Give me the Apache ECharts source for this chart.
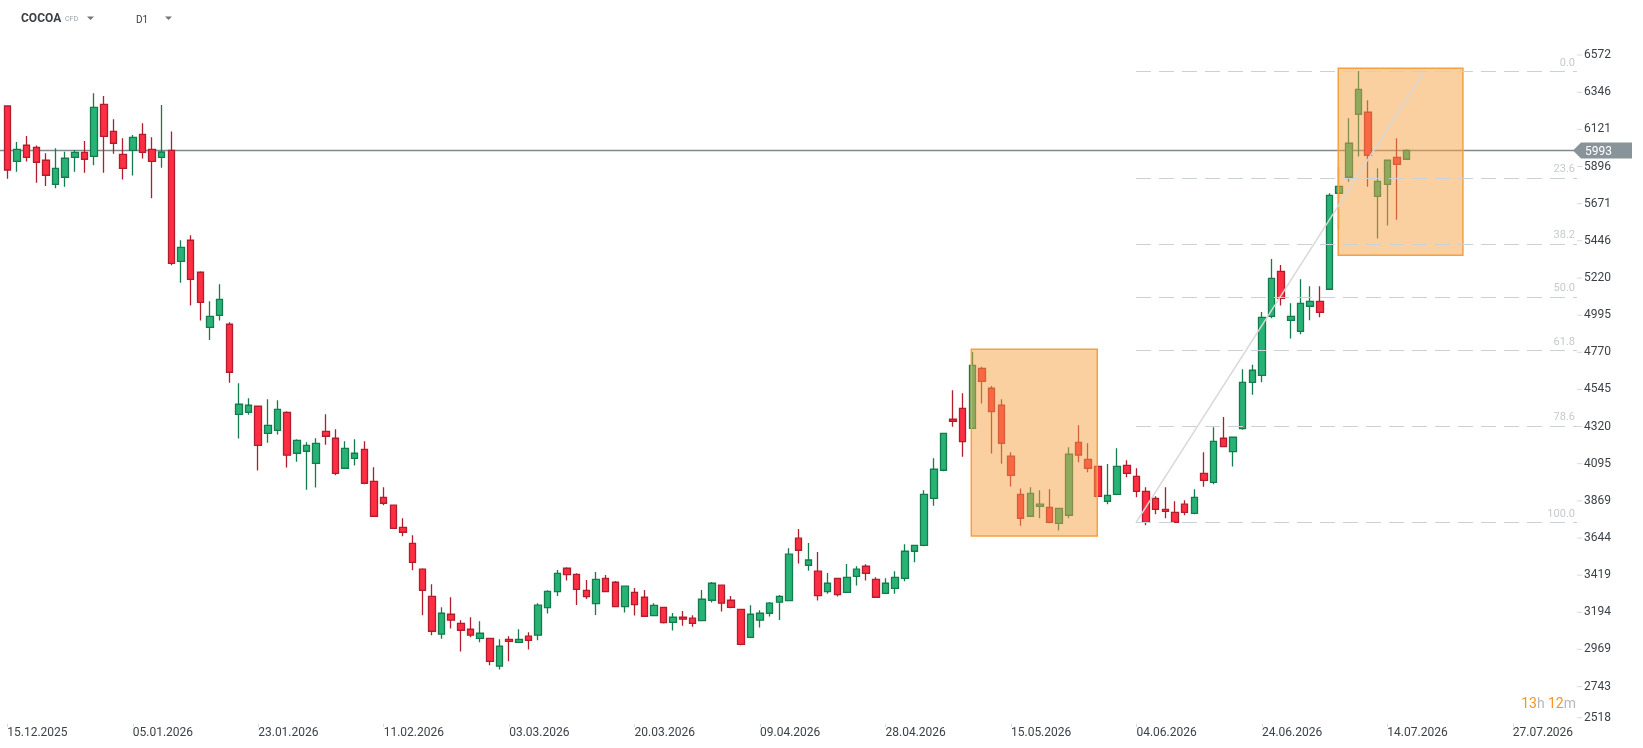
<!DOCTYPE html>
<html><head><meta charset="utf-8">
<script src="https://cdn.jsdelivr.net/npm/echarts@6/dist/echarts.min.js"></script>
<style>html,body{margin:0;padding:0;background:#fff;}#chart{width:1643px;height:748px;}</style>
</head><body><div id="chart"></div>
<script>
// ---- data ----
const openP = [6263,5927,6025,6012,5934,5788,5831,5952,5982,5958,6273,6109,5970,5994,6091,6000,5952,5994,5321,5449,5255,4921,4994,
4940,4394,4406,4443,4279,4297,4406,4158,4170,4097,4291,4249,4067,4127,4182,3988,3891,3843,3709,3612,3455,3291,3061,3182,3127,3091,
3036,3036,2867,3030,3012,3049,3055,3222,3319,3461,3424,3327,3247,3400,3376,3228,3315,3285,3174,3224,3133,3164,3158,3144,3267,3358,3267,
3212,3042,3146,3188,3255,3265,3643,3479,3443,3319,3400,3315,3412,3473,3394,3309,3339,3400,3564,3600,3885,4055,4364,4430,
4309,4673,4552,4449,4140,3909,3776,3836,3830,3733,3782,4224,4121,4079,3867,3909,4085,4018,3927,3885,3818,3800,3849,3794,4036,3982,
4249,4168,4307,4588,4630,4988,5261,4964,4897,5049,5079,5152,5734,5831,6212,6225,5715,5788,5952,5940];
const closeP = [5875,6000,5952,5922,5843,5885,5946,5982,5940,6255,6079,6037,5885,6073,5982,5927,5984,5309,5406,5212,5073,4988,5091,
4649,4455,4449,4206,4327,4424,4146,4236,4206,4218,4261,4036,4188,4158,3976,3776,3855,3703,3679,3497,3327,3079,3188,3146,3085,3055,
3067,2897,2988,3018,3030,3024,3237,3321,3430,3422,3333,3289,3394,3319,3228,3352,3240,3170,3236,3131,3164,3152,3127,3273,3370,3249,3224,
3000,3182,3188,3249,3291,3546,3570,3511,3295,3370,3301,3406,3455,3430,3285,3370,3406,3564,3600,3909,4061,4279,4352,4228,
4691,4594,4410,4218,4024,3764,3915,3849,3739,3824,4152,4146,4067,3897,3903,4079,4036,3927,3739,3818,3806,3739,3800,3891,3994,4230,
4198,4255,4588,4661,4982,5218,5097,4988,5067,5079,5012,5721,5776,6037,6364,5964,5806,5934,5909,5993];
const lowP = [5822,5865,5926,5798,5778,5764,5774,5865,5859,5903,5859,5974,5818,5841,5944,5703,5889,5297,5192,5053,4962,4845,4962,
4586,4247,4392,4053,4222,4271,4071,4107,3937,3950,4210,4024,4065,4083,3970,3774,3843,3701,3655,3449,3176,3055,3034,3095,2956,3043,
3012,2873,2847,2897,3012,2968,3024,3186,3293,3386,3238,3275,3178,3317,3226,3192,3174,3168,3172,3126,3083,3113,3107,3142,3254,3198,3218,
2994,3036,3101,3168,3147,3263,3489,3446,3265,3307,3289,3313,3356,3386,3283,3307,3307,3382,3497,3594,3840,4049,4319,4137,
4307,4459,4156,4095,3956,3719,3774,3764,3733,3690,3764,4103,4043,3895,3849,3907,4012,3891,3722,3788,3764,3737,3782,3788,3955,3970,
4194,4077,4301,4513,4588,4976,5053,4853,4879,4964,4982,5150,5515,5804,5956,5774,5459,5538,5574,5935];
const highP = [6268,6045,6081,6024,5976,6006,5986,5996,6051,6340,6323,6182,6067,6087,6158,6073,6269,6109,5449,5479,5261,5079,5182,
4952,4582,4491,4446,4485,4479,4412,4243,4224,4249,4394,4303,4230,4243,4230,4073,3952,3845,3764,3661,3461,3364,3224,3285,3146,3164,
3140,3038,3030,3049,3091,3073,3249,3328,3451,3467,3430,3390,3438,3420,3384,3354,3341,3329,3249,3226,3190,3202,3176,3329,3378,3360,3293,
3214,3237,3206,3257,3299,3582,3699,3614,3560,3432,3402,3487,3473,3485,3406,3400,3443,3606,3602,3933,4127,4281,4540,4521,
4772,4683,4566,4485,4164,3945,3952,3933,3939,3826,4194,4327,4218,4081,4093,4188,4115,4067,3952,3897,3952,3867,3873,3939,4164,4315,
4378,4257,4667,4695,5014,5336,5299,5067,5212,5170,5170,5734,5891,6188,6475,6297,5885,5936,6067,6000];
const xTickIndex = [0,13,26,39,52,65,78,91,104,117,130,143,156];
const xTickLabels = ['15.12.2025','05.01.2026','23.01.2026','11.02.2026','03.03.2026','20.03.2026','09.04.2026',
  '28.04.2026','15.05.2026','04.06.2026','24.06.2026','14.07.2026','27.07.2026'];
const yTicks = [2518,2743,2969,3194,3419,3644,3869,4095,4320,4545,4770,4995,5220,5446,5671,5896,6121,6346,6572];
const lastPrice = 5993;
const fibLow = 3737, fibHigh = 6471;
const fibRatios = [0, 23.6, 38.2, 50, 61.8, 78.6, 100];
const fibStartIndex = 116.95;
const trendPoints = [[116.95, 3737], [146.8, 6471]];
const zoneBoxes = [[99.89, 4788, 112.94, 3657], [137.91, 6491, 150.83, 5358]];
const xMin = -0.757, xMax = 162.65, yMin = 2518, yMax = 6572;

// ---- chart ----
const candles = openP.map((o, i) => [i, o, closeP[i], lowP[i], highP[i]]);
const chart = echarts.init(document.getElementById('chart'));
const FONT = 'Roboto';
chart.setOption({
  animation: false,
  backgroundColor: '#ffffff',
  textStyle: { fontFamily: FONT },
  grid: { left: 0, right: 66, top: 55, bottom: 24.2 },
  xAxis: {
    type: 'value', min: xMin, max: xMax,
    axisLine: { show: false }, splitLine: { show: false },
    axisTick: { show: true, customValues: xTickIndex, length: 3, lineStyle: { color: '#d6dadd' } },
    axisLabel: {
      customValues: xTickIndex, align: 'left', margin: 3, fontSize: 12, color: '#3c4247', fontFamily: FONT,
      formatter: v => xTickLabels[xTickIndex.indexOf(Math.round(v))] || ''
    }
  },
  yAxis: {
    type: 'value', position: 'right', min: yMin, max: yMax,
    axisLine: { show: false }, splitLine: { show: false },
    axisTick: { show: false },
    axisLabel: {
      customValues: yTicks, margin: 0, fontSize: 12, color: '#3c4247', fontFamily: FONT,
      verticalAlignMinLabel: 'bottom',
      formatter: v => '{t|}{v|' + Math.round(v) + '}',
      rich: {
        t: { width: 5, height: 1, backgroundColor: '#d6dadd' },
        v: { fontSize: 12, color: '#3c4247', fontFamily: FONT, padding: [0, 0, 0, 2] }
      }
    }
  },
  series: [
    {
      type: 'line', data: [], z: 1, silent: true,
      markLine: {
        silent: true, z: 1, symbol: ['none', 'none'], animation: false,
        lineStyle: { color: '#7e8a90', width: 1.3, type: 'solid' },
        label: { show: false },
        data: [[{ coord: [xMin, lastPrice] }, { coord: [xMax, lastPrice] }]]
      },
      markPoint: {
        silent: true, z: 6, animation: false,
        data: [{
          coord: [xMax, lastPrice],
          symbol: 'path://M0,8 L8,0 L59,0 L59,16 L8,16 Z',
          symbolSize: [59, 16], symbolOffset: [25.5, 0], symbolKeepAspect: false,
          itemStyle: { color: '#89949a' },
          label: { show: true, formatter: String(lastPrice), color: '#ffffff', fontSize: 12, fontFamily: FONT, offset: [-4, 1] }
        }]
      }
    },
    {
      type: 'candlestick', z: 2, barWidth: 7,
      encode: { x: 0, y: [1, 2, 3, 4] },
      data: candles,
      itemStyle: {
        color: '#27b376', color0: '#ff2e42',
        borderColor: '#157a4c', borderColor0: '#b01e2d', borderWidth: 1.3
      }
    },
    {
      type: 'line', data: [], z: 3, silent: true,
      markArea: {
        silent: true, z: 3, animation: false,
        itemStyle: { color: 'rgba(245,162,68,0.5)', borderColor: '#f5a043', borderWidth: 1.5 },
        label: { show: false },
        data: zoneBoxes.map(b => [{ coord: [b[0], b[1]] }, { coord: [b[2], b[3]] }])
      }
    },
    {
      type: 'line', data: [], z: 4, silent: true,
      markLine: {
        silent: true, z: 4, symbol: ['none', 'none'], animation: false,
        lineStyle: { color: '#c9d2d8', width: 1, type: [15, 8] },
        label: { show: true, position: 'insideEndTop', color: '#c5cacd', fontSize: 11, fontFamily: FONT, distance: [2, 3] },
        data: fibRatios.map(r => {
          const v = fibHigh - r / 100 * (fibHigh - fibLow);
          return [{ coord: [fibStartIndex, v], label: { formatter: r.toFixed(1) } }, { coord: [xMax, v] }];
        })
      }
    },
    {
      type: 'line', data: [], z: 5, silent: true,
      markLine: {
        silent: true, z: 5, symbol: ['none', 'none'], animation: false,
        lineStyle: { color: '#d8d8d8', width: 1.5, type: 'solid' },
        label: { show: false },
        data: [[{ coord: trendPoints[0] }, { coord: trendPoints[1] }]]
      }
    }
  ],
  graphic: [
    { type: 'text', x: 21, y: 19, style: { text: 'COCOA', font: 'bold 12px Roboto', fill: '#3b4046', verticalAlign: 'middle' } },
    { type: 'text', x: 65, y: 19, style: { text: 'CFD', font: '7px Roboto', fill: '#9aa2a8', verticalAlign: 'middle' } },
    { type: 'polygon', shape: { points: [[87, 16.5], [94, 16.5], [90.5, 20]] }, style: { fill: '#70767b' } },
    { type: 'text', x: 136, y: 20, style: { text: 'D1', font: '10px Roboto', fill: '#3b4046', verticalAlign: 'middle' } },
    { type: 'polygon', shape: { points: [[165, 16.5], [172, 16.5], [168.5, 20]] }, style: { fill: '#70767b' } },
    { type: 'text', x: 1576, y: 704, style: {
        text: '{o|13}{g|h} {o|12}{g|m}', align: 'right', verticalAlign: 'middle',
        rich: { o: { fill: '#f7941d', font: '14px Roboto' }, g: { fill: '#b5b8bb', font: '14px Roboto' } }
      } }
  ]
});
</script></body></html>
